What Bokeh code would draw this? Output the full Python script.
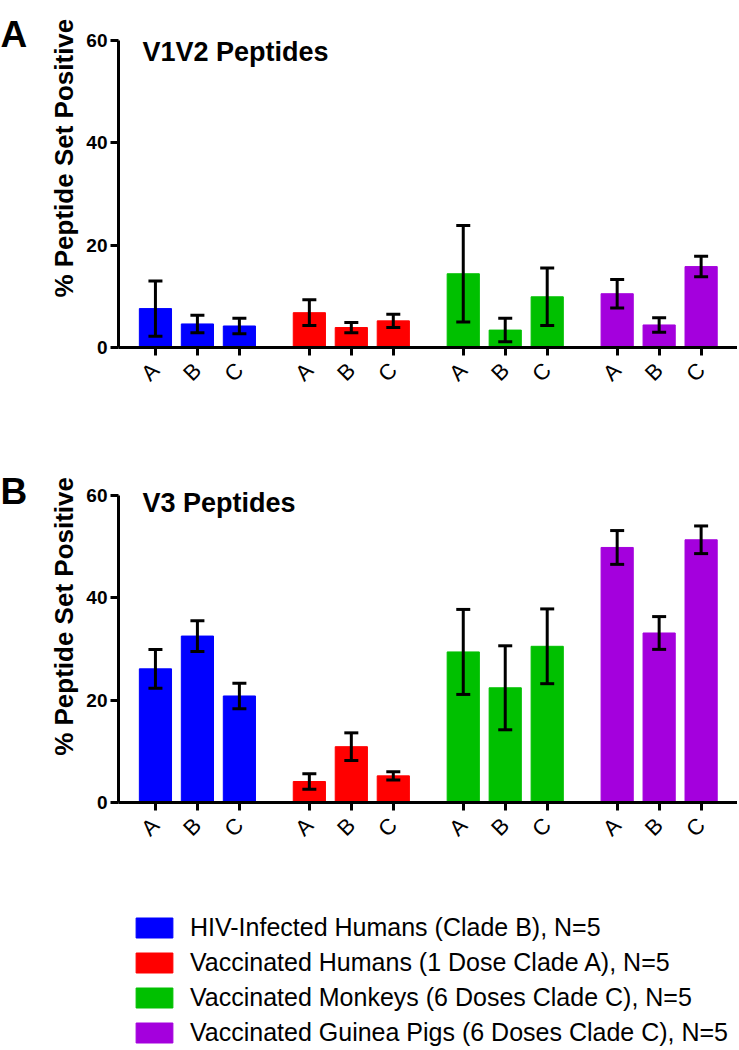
import math
import numpy as np
from bokeh.plotting import figure
from bokeh.models import (ColumnDataSource, Range1d, FixedTicker, Whisker, TeeHead,
                          Label, Legend, LegendItem)
from bokeh.core.properties import value
from bokeh.layouts import column, row
from bokeh.embed import file_html
from bokeh.resources import INLINE

# ---------------- data ----------------
groups = [
    "HIV-Infected Humans (Clade B), N=5",
    "Vaccinated Humans (1 Dose Clade A), N=5",
    "Vaccinated Monkeys (6 Doses Clade C), N=5",
    "Vaccinated Guinea Pigs (6 Doses Clade C), N=5",
]
clades = ["A", "B", "C"]
colors = ["#0000FF", "#FF0000", "#00C000", "#A400DD"]

# V1V2 peptides: mean % and error (one entry per group x clade)
v1v2_mean = [7.6, 4.6, 4.2, 6.8, 3.9, 5.2, 14.4, 3.4, 9.9, 10.5, 4.4, 15.8]
v1v2_err = [5.4, 1.7, 1.5, 2.5, 1.0, 1.3, 9.4, 2.3, 5.6, 2.8, 1.4, 2.0]

# V3 peptides
v3_mean = [26.1, 32.5, 20.8, 4.1, 10.9, 5.2, 29.4, 22.4, 30.5, 49.8, 33.1, 51.3]
v3_err = [3.8, 3.0, 2.5, 1.5, 2.7, 0.8, 8.3, 8.2, 7.3, 3.3, 3.2, 2.7]

y_ticks = [0, 20, 40, 60]
y_label = "% Peptide Set Positive"

# ---------------- layout constants ----------------
FONT = "Liberation Sans"
BAR_STEP = 3
GROUP_STEP = 11
BAR_W = 2.3
XS = [g * GROUP_STEP + j * BAR_STEP for g in range(len(groups)) for j in range(len(clades))]
X_LABELS = {x: clades[i % len(clades)] for i, x in enumerate(XS)}
BAR_COLORS = [colors[i // len(clades)] for i in range(len(XS))]
LEFT_W = 80


def side(letter, height, letter_from_top, label_center_from_top):
    s = figure(width=LEFT_W, height=height, x_range=Range1d(0, LEFT_W),
               y_range=Range1d(0, height), min_border=0,
               x_axis_location=None, y_axis_location=None,
               output_backend="svg", toolbar_location=None)
    s.title.visible = False
    s.xgrid.visible = False
    s.ygrid.visible = False
    s.outline_line_color = None
    s.text(x=[0], y=[height - letter_from_top], text=[letter], text_font=value(FONT),
           text_font_size="37px", text_font_style="bold", text_align="left",
           text_baseline="alphabetic", text_color="black")
    s.text(x=[63], y=[height - label_center_from_top], text=[y_label],
           text_font=value(FONT), text_font_size="26px", text_font_style="bold",
           text_align="center", text_baseline="middle", angle=math.pi / 2,
           text_color="black")
    return s


def panel(mean, err, title, height, top_border, title_y):
    src = ColumnDataSource(dict(
        x=XS, top=mean,
        upper=[m + e for m, e in zip(mean, err)],
        lower=[m - e for m, e in zip(mean, err)],
        color=BAR_COLORS,
    ))
    p = figure(width=38 + 619, height=height,
               x_range=Range1d(-2.64, 41.6), y_range=Range1d(0, 66),
               min_border_left=38, min_border_right=0,
               min_border_top=top_border, min_border_bottom=height - top_border - 338,
               output_backend="svg", toolbar_location=None)
    p.title.visible = False
    p.vbar(x="x", top="top", bottom=0, width=BAR_W, fill_color="color",
           line_color="color", source=src)
    w = Whisker(base="x", upper="upper", lower="lower", source=src,
                line_width=3, line_color="black", level="overlay",
                upper_head=TeeHead(size=14, line_width=3, line_color="black"),
                lower_head=TeeHead(size=14, line_width=3, line_color="black"))
    p.add_layout(w)

    p.xgrid.visible = False
    p.ygrid.visible = False
    p.outline_line_color = None
    p.background_fill_color = "white"
    p.border_fill_color = "white"

    yax = p.yaxis[0]
    yax.ticker = FixedTicker(ticks=y_ticks)
    yax.bounds = (0, 60)
    yax.major_label_text_font = FONT
    yax.major_label_text_font_size = "19px"
    yax.major_label_text_font_style = "bold"
    yax.major_label_text_color = "black"
    yax.major_label_standoff = 3

    xax = p.xaxis[0]
    xax.ticker = FixedTicker(ticks=XS)
    xax.major_label_overrides = X_LABELS
    xax.major_label_orientation = math.pi / 4
    xax.major_label_text_font = FONT
    xax.major_label_text_font_size = "22px"
    xax.major_label_text_color = "black"
    xax.major_label_standoff = 11

    for ax in (xax, yax):
        ax.axis_line_width = 3
        ax.axis_line_color = "black"
        ax.major_tick_line_width = 3
        ax.major_tick_line_color = "black"
        ax.major_tick_out = 8
        ax.major_tick_in = 0
        ax.minor_tick_out = 0
        ax.minor_tick_in = 0

    p.add_layout(Label(x=-0.93, y=title_y, text=title, text_font=FONT,
                       text_font_size="27px", text_font_style="bold",
                       text_baseline="alphabetic", text_align="left",
                       text_color="black"))
    return p


HA, HB, HL = 440, 465, 143
sa = side("A", HA, 32, 193.5)
pa = panel(v1v2_mean, v1v2_err, "V1V2 Peptides", HA, 9, 57.65)
sb = side("B", HB, 37, 209)
pb = panel(v3_mean, v3_err, "V3 Peptides", HB, 24, 58.4)

# ---------------- legend ----------------
lp = figure(width=LEFT_W + 38 + 619, height=HL, x_range=Range1d(0, 1), y_range=Range1d(0, 1),
            min_border_left=123, min_border_right=0, min_border_top=0,
            min_border_bottom=0, x_axis_location=None, y_axis_location=None,
            output_backend="svg", toolbar_location=None)
lp.title.visible = False
lp.xgrid.visible = False
lp.ygrid.visible = False
lp.outline_line_color = None
rends = [lp.vbar(x=np.array([np.nan]), top=np.array([np.nan]), width=0.1,
                 fill_color=c, line_color=c) for c in colors]
legend = Legend(items=[LegendItem(label=g, renderers=[r]) for g, r in zip(groups, rends)],
                location="top_left", margin=8, padding=0,
                border_line_color=None, background_fill_alpha=0,
                glyph_width=46, glyph_height=25, label_standoff=13, spacing=6,
                label_text_font=FONT, label_text_font_size="25px",
                label_text_color="black")
lp.add_layout(legend)

layout = column(row(sa, pa), row(sb, pb), lp)
open("out.html", "w").write(file_html(layout, INLINE))
